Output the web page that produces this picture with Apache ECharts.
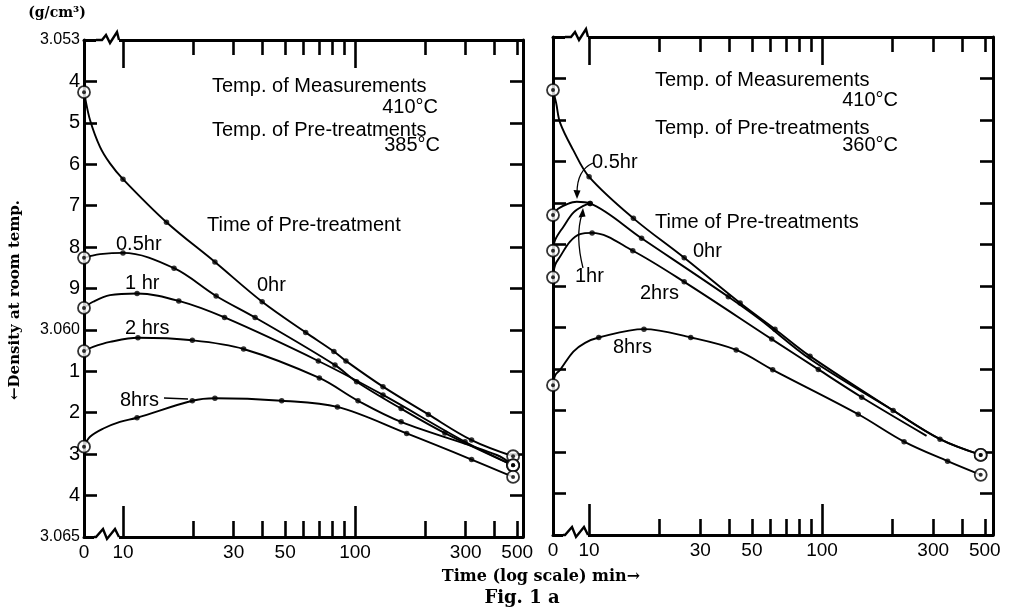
<!DOCTYPE html>
<html><head><meta charset="utf-8">
<script src="https://cdn.jsdelivr.net/npm/echarts@6/dist/echarts.min.js"></script>
<style>html,body{margin:0;background:#fff}#c{width:1010px;height:616px}</style>
</head><body><div id="c"></div>
<script>
// ---------------- DATA ----------------
const yTickLabels = ['3.053','4','5','6','7','8','9','3.060','1','2','3','4','3.065'];
const xLabelValues = [0, 10, 30, 50, 100, 300, 500];
const xMinorTicks = [20, 30, 40, 50, 60, 70, 80, 90, 200, 300, 400, 500];
const xMajorTicks = [10, 100];

// Left panel: pre-treatment 385°C  (t in min, density g/cm3)
const L_0hr_t = [0, 10, 15.4, 24.9, 39.8, 61.3, 81.1, 91.4, 132, 207, 318, 480];
const L_0hr_d = [3.05426, 3.05636, 3.05740, 3.05836, 3.05932, 3.06006, 3.06052, 3.06075, 3.06137, 3.06204, 3.06266, 3.06305];
const L_0hr_trace_t = [6.85, 7.21, 7.96, 8.79];
const L_0hr_trace_d = [3.05437, 3.05493, 3.05558, 3.05598];

const L_05hr_t = [0, 10, 16.6, 25.2, 37.1, 82, 101.6, 158, 244, 480];
const L_05hr_d = [3.05826, 3.05814, 3.05851, 3.05918, 3.05970, 3.06085, 3.06125, 3.06190, 3.06249, 3.06327];
const L_05hr_trace_t = [7.21, 7.96];
const L_05hr_trace_d = [3.05822, 3.05817];

const L_1hr_t = [0, 11.5, 17.4, 27.4, 69.5, 132, 298, 480];
const L_1hr_d = [3.05947, 3.05912, 3.05930, 3.05970, 3.06075, 3.06157, 3.06270, 3.06327];
const L_1hr_trace_t = [7.43, 8.79];
const L_1hr_trace_d = [3.05932, 3.05916];

const L_2hr_t = [0, 11.6, 19.9, 33.1, 70.2, 103, 158, 480];
const L_2hr_d = [3.06051, 3.06019, 3.06025, 3.06046, 3.06116, 3.06171, 3.06222, 3.06327];
const L_2hr_trace_t = [7.43, 8.79, 408];
const L_2hr_trace_d = [3.06041, 3.06029, 3.06302];

const L_8hr_t = [0, 11.5, 19.9, 24.9, 48.3, 84, 167, 318, 480];
const L_8hr_d = [3.06282, 3.06212, 3.06171, 3.06165, 3.06171, 3.06186, 3.06250, 3.06313, 3.06355];
const L_8hr_trace_t = [7.21, 8.23, 9.7];
const L_8hr_trace_d = [3.06258, 3.06238, 3.06222];

// Right panel: pre-treatment 360°C
const R_0hr_t = [0, 10, 15.5, 25.6, 44.5, 62.8, 88.8, 202, 321, 480];
const R_0hr_d = [3.05428, 3.05637, 3.05737, 3.05832, 3.05941, 3.06004, 3.06069, 3.06200, 3.06269, 3.06307];
const R_0hr_trace_t = [7.22, 7.51, 8.54];
const R_0hr_trace_d = [3.05459, 3.05507, 3.05572];

const R_05hr_t = [0, 10.1, 16.8, 39.6, 480];
const R_05hr_d = [3.05729, 3.05701, 3.05785, 3.05926, 3.06307];
const R_05hr_trace_t = [7.36, 8.02, 8.85, 54.2, 88.8, 202, 321];
const R_05hr_trace_d = [3.05714, 3.05703, 3.05697, 3.05981, 3.06076, 3.06200, 3.06269];

const R_1hr_t = [0, 10.1];
const R_1hr_d = [3.05815, 3.05701];
const R_1hr_trace_t = [7.15, 7.76, 8.56, 9.45];
const R_1hr_trace_d = [3.05789, 3.05757, 3.05723, 3.05707];

const R_2hr_t = [0, 10.3, 15.4, 25.6, 60.8, 96.4, 148];
const R_2hr_d = [3.05879, 3.05772, 3.05815, 3.05890, 3.06028, 3.06101, 3.06168];
const R_2hr_trace_t = [7.15, 7.51, 8.28, 9.15, 281];
const R_2hr_trace_d = [3.05849, 3.05829, 3.05793, 3.05775, 3.06261];

const R_8hr_t = [0, 11, 17.2, 27.3, 42.8, 61.4, 143, 225, 346, 480];
const R_8hr_d = [3.06139, 3.06024, 3.06004, 3.06024, 3.06054, 3.06102, 3.06209, 3.06275, 3.06322, 3.06355];
const R_8hr_trace_t = [7.15, 7.51, 8.56, 9.61];
const R_8hr_trace_d = [3.06115, 3.06102, 3.06058, 3.06037];

// ---------------- LAYOUT / STYLE ----------------
const ZERO = [0.832, 0.845];    // axis position used for t = 0 (broken axis)
const XMAX = [2.724, 2.734];
const END_T = 480;
function xv(t, g) { return t > 0 ? Math.log10(t) : ZERO[g]; }

const FONT_NUM = "'Liberation Sans Narrow','Liberation Sans',Arial,sans-serif";
const FONT_HAND = "'Liberation Sans',Arial,sans-serif";
const FONT_BOLD = "'DejaVu Serif','Liberation Serif',serif";

const grids = [
  { left: 84, top: 40, width: 439, height: 497 },
  { left: 553, top: 37, width: 440, height: 498 }
];

const curves = [
  { g: 0, t: L_0hr_t, d: L_0hr_d, tt: L_0hr_trace_t, td: L_0hr_trace_d },
  { g: 0, t: L_05hr_t, d: L_05hr_d, tt: L_05hr_trace_t, td: L_05hr_trace_d },
  { g: 0, t: L_1hr_t, d: L_1hr_d, tt: L_1hr_trace_t, td: L_1hr_trace_d },
  { g: 0, t: L_2hr_t, d: L_2hr_d, tt: L_2hr_trace_t, td: L_2hr_trace_d },
  { g: 0, t: L_8hr_t, d: L_8hr_d, tt: L_8hr_trace_t, td: L_8hr_trace_d },
  { g: 1, t: R_0hr_t, d: R_0hr_d, tt: R_0hr_trace_t, td: R_0hr_trace_d },
  { g: 1, t: R_05hr_t, d: R_05hr_d, tt: R_05hr_trace_t, td: R_05hr_trace_d },
  { g: 1, t: R_1hr_t, d: R_1hr_d, tt: R_1hr_trace_t, td: R_1hr_trace_d },
  { g: 1, t: R_2hr_t, d: R_2hr_d, tt: R_2hr_trace_t, td: R_2hr_trace_d },
  { g: 1, t: R_8hr_t, d: R_8hr_d, tt: R_8hr_trace_t, td: R_8hr_trace_d }
];

const AX_LINE = { color: '#000', width: 3 };
const TICK = { color: '#000', width: 2.6 };

function xLabel(v, g) {
  let best = 0;
  xLabelValues.forEach((t, i) => {
    if (Math.abs(xv(t, g) - v) < Math.abs(xv(xLabelValues[best], g) - v)) best = i;
  });
  return String(xLabelValues[best]);
}

function xAxesFor(g) {
  const base = { type: 'value', gridIndex: g, min: ZERO[g], max: XMAX[g], splitLine: { show: false } };
  return [
    Object.assign({}, base, {
      position: 'bottom',
      axisLine: { show: true, onZero: false, lineStyle: AX_LINE },
      axisTick: { show: true, inside: true, length: 16, lineStyle: TICK, customValues: xMinorTicks.map(t => xv(t, g)) },
      axisLabel: { show: true, customValues: xLabelValues.map(t => xv(t, g)), formatter: v => xLabel(v, g),
        color: '#000', fontSize: 19, fontFamily: FONT_NUM, margin: 6 }
    }),
    Object.assign({}, base, {
      position: 'bottom', axisLine: { show: false },
      axisTick: { show: true, inside: true, length: 31, lineStyle: TICK, customValues: xMajorTicks.map(t => xv(t, g)) },
      axisLabel: { show: false }
    }),
    Object.assign({}, base, {
      position: 'top',
      axisLine: { show: true, onZero: false, lineStyle: AX_LINE },
      axisTick: { show: true, inside: true, length: 15, lineStyle: TICK, customValues: xMinorTicks.map(t => xv(t, g)) },
      axisLabel: { show: false }
    }),
    Object.assign({}, base, {
      position: 'top', axisLine: { show: false },
      axisTick: { show: true, inside: true, length: 28, lineStyle: TICK, customValues: xMajorTicks.map(t => xv(t, g)) },
      axisLabel: { show: false }
    })
  ];
}

function yAxesFor(g, showLabels) {
  const base = { type: 'value', gridIndex: g, min: 3.053, max: 3.065, interval: 0.001, inverse: true, splitLine: { show: false } };
  return [
    Object.assign({}, base, {
      position: 'left',
      axisLine: { show: true, onZero: false, lineStyle: AX_LINE },
      axisTick: { show: true, inside: true, length: 13, lineStyle: TICK },
      axisLabel: {
        show: showLabels, margin: 4,
        formatter: v => {
          const s = yTickLabels[Math.round((v - 3.053) / 0.001)] || '';
          return s.length > 1 ? '{s|' + s + '}' : '{b|' + s + '}';
        },
        rich: {
          s: { fontSize: 16, fontFamily: FONT_NUM, color: '#000' },
          b: { fontSize: 20, fontFamily: FONT_NUM, color: '#000' }
        }
      }
    }),
    Object.assign({}, base, {
      position: 'right',
      axisLine: { show: true, onZero: false, lineStyle: AX_LINE },
      axisTick: { show: true, inside: true, length: 13, lineStyle: TICK },
      axisLabel: { show: false }
    })
  ];
}

// ---------------- SERIES ----------------
const series = [];
const dots = [[], []], rings = [[], []];
curves.forEach(c => {
  const g = c.g;
  const pts = c.t.map((t, i) => [xv(t, g), c.d[i]])
    .concat(c.tt.map((t, i) => [xv(t, g), c.td[i]]))
    .sort((a, b) => a[0] - b[0]);
  series.push({
    type: 'line', xAxisIndex: g * 4, yAxisIndex: g * 2, data: pts,
    smooth: 0.35, symbol: 'none', silent: true, z: 3,
    lineStyle: { color: '#000', width: 1.9 }
  });
  c.t.forEach((t, i) => {
    const p = [xv(t, g), c.d[i]];
    if (t === 0 || t >= END_T) rings[g].push(p); else dots[g].push(p);
  });
});
[0, 1].forEach(g => {
  series.push({
    type: 'scatter', xAxisIndex: g * 4, yAxisIndex: g * 2, data: rings[g], clip: false,
    symbol: 'circle', symbolSize: 12, silent: true, z: 4,
    itemStyle: { color: '#fff', borderColor: '#000', borderWidth: 1.8 }
  });
  series.push({
    type: 'scatter', xAxisIndex: g * 4, yAxisIndex: g * 2, data: rings[g], clip: false,
    symbol: 'circle', symbolSize: 4, silent: true, z: 5, itemStyle: { color: '#000' }
  });
  series.push({
    type: 'scatter', xAxisIndex: g * 4, yAxisIndex: g * 2, data: dots[g], clip: false,
    symbol: 'circle', symbolSize: 5.5, silent: true, z: 5, itemStyle: { color: '#000' }
  });
});

// ---------------- GRAPHIC (texts, axis breaks, arrows) ----------------
const G = [];
function txt(text, x, y, size, align, font, weight, rot) {
  G.push({ type: 'text', x: x, y: y, rotation: rot || 0, z: 100, silent: true,
    style: { text: text, fill: '#000', font: (weight || 'normal') + ' ' + size + 'px ' + (font || FONT_HAND),
      textAlign: align || 'left', textVerticalAlign: 'middle' } });
}
function line(points, w) {
  G.push({ type: 'polyline', z: 101, silent: true, shape: { points: points },
    style: { stroke: '#000', lineWidth: w || 2, fill: null } });
}
// axis-break zigzags on top and bottom of both panels
grids.forEach(gr => {
  const x0 = gr.left, yt = gr.top, yb = gr.top + gr.height;
  G.push({ type: 'rect', z: 100, silent: true, shape: { x: x0 + 12, y: yt - 3, width: 23, height: 6 }, style: { fill: '#fff' } });
  G.push({ type: 'rect', z: 100, silent: true, shape: { x: x0 + 10, y: yb - 3, width: 25, height: 6 }, style: { fill: '#fff' } });
  line([[x0 + 12, yt], [x0 + 18, yt], [x0 + 22, yt - 5], [x0 + 26, yt + 3], [x0 + 33, yt - 8], [x0 + 35, yt]], 2.4);
  line([[x0 + 10, yb], [x0 + 12, yb], [x0 + 19, yb - 8], [x0 + 23, yb + 2], [x0 + 31, yb - 8], [x0 + 35, yb]], 2.4);
});

// axis titles
txt('(g/cm³)', 57, 13, 14, 'center', FONT_BOLD, 'bold');
txt('←Density at room temp.', 15, 300, 15, 'center', FONT_BOLD, 'bold', Math.PI / 2);
txt('Time (log scale) min→', 541, 577, 16, 'center', FONT_BOLD, 'bold');
txt('Fig. 1 a', 522, 598, 18, 'center', FONT_BOLD, 'bold');

// left panel annotations
txt('Temp. of Measurements', 212, 86, 20);
txt('410°C', 438, 107, 20, 'right');
txt('Temp. of Pre-treatments', 212, 130, 20);
txt('385°C', 440, 145, 20, 'right');
txt('Time of Pre-treatment', 207, 225, 20);
txt('0.5hr', 116, 244, 20);
txt('1 hr', 125, 283, 20);
txt('2 hrs', 125, 328, 20);
txt('8hrs', 120, 400, 20);
line([[164, 398], [188, 399]], 1.5);
txt('0hr', 257, 285, 20);

// right panel annotations
txt('Temp. of Measurements', 655, 80, 20);
txt('410°C', 898, 100, 20, 'right');
txt('Temp. of Pre-treatments', 655, 128, 20);
txt('360°C', 898, 145, 20, 'right');
txt('Time of Pre-treatments', 655, 222, 20);
txt('0.5hr', 592, 162, 20);
txt('1hr', 575, 276, 20);
txt('0hr', 693, 251, 20);
txt('2hrs', 640, 293, 20);
txt('8hrs', 613, 347, 20);
// arrows from labels to curves
G.push({ type: 'bezierCurve', z: 101, silent: true, shape: { x1: 593, y1: 163, cpx1: 577, cpy1: 170, x2: 577, y2: 193 },
  style: { stroke: '#000', lineWidth: 1.3, fill: null } });
G.push({ type: 'polygon', z: 101, silent: true, shape: { points: [[573.5, 190], [580.5, 190.5], [577, 199]] }, style: { fill: '#000' } });
G.push({ type: 'bezierCurve', z: 101, silent: true, shape: { x1: 583, y1: 268, cpx1: 575, cpy1: 236, x2: 582, y2: 214 },
  style: { stroke: '#000', lineWidth: 1.3, fill: null } });
G.push({ type: 'polygon', z: 101, silent: true, shape: { points: [[578.5, 217.5], [585.5, 216.5], [583, 208]] }, style: { fill: '#000' } });

// ---------------- CHART ----------------
const chart = echarts.init(document.getElementById('c'), null, { renderer: 'canvas' });
chart.setOption({
  animation: false,
  backgroundColor: '#fff',
  grid: grids.map(g => Object.assign({ outerBoundsMode: 'none', containLabel: false }, g)),
  xAxis: xAxesFor(0).concat(xAxesFor(1)),
  yAxis: yAxesFor(0, true).concat(yAxesFor(1, false)),
  series: series,
  graphic: { elements: G }
});
</script>
</body></html>
